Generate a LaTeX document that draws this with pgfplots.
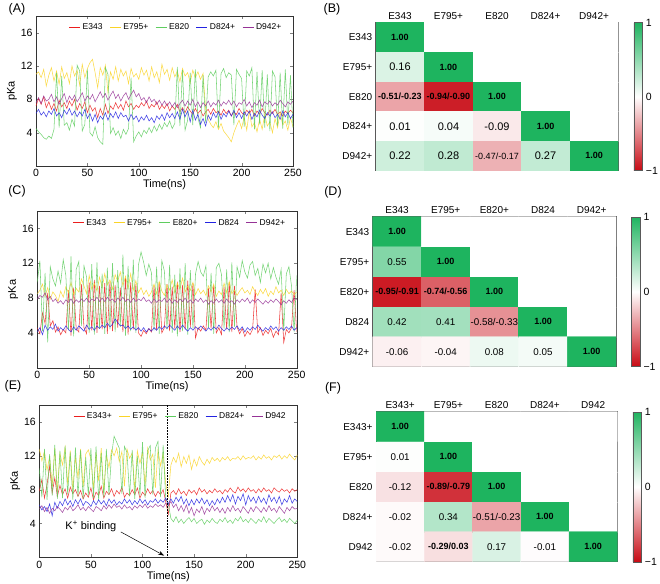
\documentclass[border=0pt]{standalone}
\usepackage{pgfplots}
\pgfplotsset{compat=1.18}
\usepackage{pgfplotstable}
\usepackage{fontspec}
\setmainfont{Liberation Sans}
\usetikzlibrary{arrows.meta}

\definecolor{cR}{RGB}{235,30,30}
\definecolor{cY}{RGB}{250,212,40}
\definecolor{cG}{RGB}{95,205,95}
\definecolor{cB}{RGB}{35,35,225}
\definecolor{cP}{RGB}{150,50,150}

\protected\def\one{{\fontsize{9}{10}\selectfont\bfseries 1.00}}
\protected\def\bl#1{{\fontsize{9}{10}\selectfont\bfseries #1}}
\protected\def\sm#1{{\fontsize{9}{10}\selectfont #1}}
\protected\def\md#1{{\fontsize{9.8}{11}\selectfont #1}}

\pgfplotstableread{
t r y g b p
0 7.2 11.0 4.5 6.3 7.6
2.5 8.1 11.3 4.1 6.8 8.2
5 7.4 10.6 3.8 6.1 7.5
7.5 8.3 11.6 3.4 6.5 8.4
10 7.0 9.6 3.2 5.9 7.8
12.5 7.7 10.9 3.6 6.6 8.0
15 6.8 11.8 3.3 6.2 8.6
17.5 7.5 10.2 4.4 6.9 7.7
20 6.6 11.4 11.2 6.0 8.3
22.5 7.9 9.8 4.6 6.4 7.4
25 7.1 11.9 10.8 5.8 8.1
27.5 7.6 10.5 4.9 6.7 8.7
30 6.9 11.2 5.2 6.2 7.6
32.5 7.8 9.9 4.3 6.9 8.4
35 7.2 12.0 5.6 6.1 7.9
37.5 8.0 10.8 4.8 6.6 8.5
40 6.7 11.5 12.1 5.9 7.7
42.5 7.5 9.7 11.4 6.5 8.2
45 6.9 12.2 4.2 6.0 8.8
47.5 7.7 10.6 5.0 6.8 7.8
50 6.4 11.7 11.6 5.7 8.4
52.5 7.3 12.4 4.0 6.3 8.0
55 6.6 12.8 3.6 5.4 8.6
57.5 7.0 11.2 4.7 6.2 7.7
60 5.8 9.4 3.4 5.2 8.3
62.5 6.9 11.8 2.9 6.0 8.9
65 6.1 10.9 2.6 5.6 8.2
67.5 7.4 12.1 11.8 6.4 8.7
70 6.3 8.8 11.0 5.5 7.9
72.5 7.2 11.3 3.9 6.3 8.5
75 6.8 10.4 4.6 5.8 9.0
77.5 7.6 11.9 3.7 6.5 8.1
80 6.9 10.2 4.2 5.7 8.6
82.5 7.4 11.6 3.3 6.4 7.8
85 6.7 10.8 4.4 5.9 8.4
87.5 7.8 11.4 3.8 6.1 8.8
90 7.1 9.9 4.5 5.4 8.0
92.5 7.5 11.7 10.6 6.2 8.6
95 6.8 10.7 2.9 5.6 9.1
97.5 7.3 11.1 3.6 6.0 8.3
100 7.0 10.4 4.1 5.3 8.7
102.5 7.6 11.8 3.5 5.9 7.9
105 7.2 10.9 4.3 5.5 8.2
107.5 7.8 11.5 3.9 6.1 7.6
110 6.9 10.2 4.6 5.4 8.3
112.5 7.4 11.9 4.0 5.8 7.7
115 7.1 10.6 4.8 5.2 8.0
117.5 7.7 11.3 4.2 6.0 7.4
120 6.8 10.0 5.0 5.6 7.9
122.5 7.3 12.2 4.4 6.2 7.3
125 6.9 11.0 5.2 5.5 7.8
127.5 7.5 11.6 4.7 6.4 7.2
130 6.6 10.3 5.4 5.8 7.7
132.5 7.2 11.8 4.5 6.3 7.1
135 6.8 10.7 5.1 5.7 7.6
137.5 7.4 11.4 11.9 6.5 7.0
140 6.5 10.1 4.8 5.6 7.5
142.5 7.0 11.7 11.5 6.8 7.9
145 6.4 10.8 4.3 5.9 7.2
147.5 7.1 11.2 5.5 6.6 7.8
150 6.6 10.0 11.2 5.3 7.3
152.5 6.2 11.5 4.9 6.7 8.0
155 6.9 10.6 11.6 5.5 7.1
157.5 6.3 11.3 5.8 6.2 7.7
160 6.7 10.4 4.6 5.0 7.0
162.5 6.0 11.1 10.9 5.7 7.6
165 6.5 6.8 5.2 4.8 7.2
167.5 6.8 5.6 10.7 6.1 7.8
170 6.2 5.0 11.3 5.5 7.1
172.5 6.9 4.6 10.8 6.4 7.6
175 6.4 5.3 11.5 5.8 7.3
177.5 6.6 4.4 4.6 6.5 7.9
180 6.1 5.1 11.1 5.6 7.2
182.5 6.8 4.2 11.7 6.3 7.7
185 6.3 3.8 10.6 5.9 7.4
187.5 6.7 3.4 11.2 6.6 7.9
190 6.0 2.9 10.9 6.0 7.3
192.5 6.5 4.0 4.9 6.7 7.8
195 6.2 4.8 11.6 5.8 7.1
197.5 6.9 5.5 11.0 6.4 7.6
200 6.4 4.5 10.5 5.7 7.4
202.5 6.1 5.9 4.7 6.5 8.0
205 6.7 4.3 11.4 6.0 7.2
207.5 6.3 6.6 10.8 6.6 7.7
210 6.8 4.7 11.8 5.6 7.0
212.5 6.0 5.2 4.4 6.3 7.6
215 6.6 4.1 11.3 5.9 7.3
217.5 6.2 5.6 5.0 6.7 7.9
220 6.9 4.4 11.5 6.1 7.1
222.5 6.4 6.2 4.6 5.7 7.7
225 6.1 4.8 11.0 6.4 7.4
227.5 6.7 5.3 4.2 6.0 7.8
230 6.3 4.0 11.4 6.5 7.2
232.5 6.8 5.7 10.7 5.8 7.6
235 6.2 4.6 4.8 6.2 7.3
237.5 6.5 6.4 11.2 5.6 7.9
240 6.0 4.9 4.5 6.6 7.5
242.5 6.6 5.4 11.6 5.9 7.1
245 6.3 4.3 4.9 6.4 7.7
247.5 6.7 5.8 10.9 5.7 7.4
250 6.4 4.7 4.6 6.2 7.8
}\dataA

\pgfplotstableread{
t r y g b p
0 4.6 8.5 9.8 4.1 7.9
2.5 3.9 8.9 12.3 4.6 8.3
5 6.3 9.6 4.2 3.8 8.1
7.5 5.1 8.2 10.9 4.9 8.6
10 8.6 9.2 2.9 4.3 7.8
12.5 4.8 7.9 11.6 4.7 8.2
15 5.4 8.7 10.2 4.4 7.6
17.5 4.1 8.3 9.4 5.0 7.9
20 4.7 7.6 11.1 4.2 7.4
22.5 3.8 8.8 9.7 4.6 7.7
25 4.4 8.1 12.4 4.3 7.3
27.5 4.0 9.3 10.6 4.8 7.8
30 8.9 8.6 4.3 4.4 7.5
32.5 3.7 9.8 12.8 4.1 7.9
35 9.2 8.4 3.6 4.7 7.4
37.5 4.5 9.1 11.3 4.3 7.8
40 4.1 8.7 12.2 4.8 7.5
42.5 9.6 10.2 4.8 4.5 7.9
45 4.6 9.4 11.7 4.2 7.6
47.5 3.9 8.5 10.4 4.9 8.0
50 9.8 10.6 4.0 4.4 7.5
52.5 4.3 9.0 11.9 4.7 7.9
55 10.1 9.7 3.8 4.3 7.7
57.5 4.0 8.8 12.1 4.8 8.1
60 9.4 10.4 4.5 4.5 7.6
62.5 4.4 9.2 10.8 4.9 8.0
65 9.7 10.8 3.9 4.6 7.6
67.5 3.9 9.5 11.5 5.1 8.1
70 9.9 10.1 4.4 4.7 7.7
72.5 4.2 9.0 12.0 5.0 7.9
75 9.5 10.7 4.1 5.6 7.5
77.5 4.6 9.9 11.2 5.2 8.0
80 9.2 11.0 4.7 4.8 7.7
82.5 4.1 9.4 13.0 4.9 8.1
85 10.3 10.5 3.7 4.5 7.6
87.5 3.8 9.1 11.7 4.8 7.9
90 9.8 10.8 4.2 4.4 7.5
92.5 4.4 8.9 12.4 4.7 8.0
95 9.6 10.0 4.0 4.3 7.6
97.5 4.0 8.6 11.8 4.6 7.9
100 3.6 9.2 13.3 4.2 7.7
102.5 4.3 8.4 12.1 4.6 8.1
105 3.9 8.9 10.6 4.1 7.6
107.5 4.5 8.2 11.9 4.5 7.8
110 4.1 8.7 10.9 4.2 7.4
112.5 9.4 9.6 4.3 4.6 7.9
115 4.3 8.5 11.6 4.3 7.5
117.5 9.8 9.9 3.9 4.7 7.8
120 4.0 8.8 12.3 4.4 7.6
122.5 4.6 8.3 11.1 4.8 8.0
125 9.6 9.5 4.4 4.5 7.5
127.5 4.2 8.9 11.8 4.9 7.9
130 9.3 10.1 4.0 4.6 7.4
132.5 4.5 8.6 10.7 4.3 7.8
135 9.9 9.7 3.6 4.8 7.5
137.5 4.1 9.0 11.4 4.4 7.9
140 9.5 10.3 4.2 4.9 7.6
142.5 4.4 8.7 12.0 4.5 8.0
145 10.0 9.4 3.8 4.2 7.5
147.5 4.7 8.9 11.2 4.6 7.8
150 9.7 9.8 4.5 4.3 7.4
152.5 3.4 8.4 10.8 4.7 7.9
155 4.6 9.1 12.2 4.4 7.6
157.5 4.2 8.5 11.0 4.8 8.0
160 4.8 8.9 10.5 4.5 7.5
162.5 4.3 8.3 11.7 4.2 7.8
165 9.1 9.4 4.6 4.6 7.3
167.5 4.5 8.7 10.9 4.3 7.7
170 9.5 9.6 3.9 4.7 7.4
172.5 4.0 8.2 11.5 4.4 7.9
175 4.6 8.8 12.0 4.9 7.5
177.5 3.8 8.4 10.7 4.5 7.8
180 9.3 9.7 4.5 4.2 7.4
182.5 4.4 8.6 11.3 4.6 7.9
185 9.8 9.9 4.1 4.3 7.5
187.5 4.1 8.5 12.1 4.7 7.7
190 9.4 8.9 4.7 4.4 7.3
192.5 4.7 8.3 11.6 4.8 7.8
195 3.9 8.8 10.4 4.3 7.5
197.5 4.5 9.2 12.3 4.7 7.9
200 3.6 8.6 11.0 4.1 7.6
202.5 4.2 8.9 10.3 4.6 8.0
205 3.8 8.4 11.8 4.3 7.4
207.5 4.4 9.3 12.2 4.7 7.8
210 9.0 8.7 10.6 4.4 7.5
212.5 4.0 8.3 11.4 4.9 7.9
215 4.6 9.0 9.8 4.5 7.6
217.5 3.7 8.5 11.9 4.2 7.3
220 4.3 9.1 10.9 4.6 7.7
222.5 3.9 8.2 12.0 4.3 7.4
225 4.5 8.8 10.2 4.8 7.8
227.5 3.5 8.4 11.5 4.4 7.5
230 4.2 9.3 10.4 4.7 7.9
232.5 3.8 8.6 9.6 4.2 7.6
235 8.6 8.9 11.3 4.6 7.2
237.5 2.9 8.3 4.2 4.3 7.7
240 4.4 9.0 10.8 4.7 7.4
242.5 4.0 8.5 11.6 4.4 7.8
245 4.6 8.8 9.4 4.8 7.5
247.5 8.9 8.4 4.1 4.3 8.0
250 4.1 8.7 10.6 4.6 7.8
}\dataC

\pgfplotstableread{
t r y g b p
0 7.8 12.8 10.5 6.2 5.7
2.5 9.2 11.4 7.1 5.6 6.1
5 7.0 12.5 12.8 6.0 5.4
7.5 8.6 10.3 6.8 5.4 5.9
10 10.8 11.9 12.2 6.3 5.2
12.5 7.6 8.4 7.3 4.9 5.8
15 9.4 12.9 13.3 6.5 5.5
17.5 7.2 7.8 6.9 5.8 6.0
20 8.5 12.3 12.6 6.6 5.7
22.5 7.4 10.9 7.0 6.1 5.3
25 8.1 13.0 13.2 6.9 5.9
27.5 7.0 8.6 7.4 6.2 5.6
30 8.3 12.6 12.4 6.7 6.1
32.5 7.5 7.9 6.8 6.0 5.5
35 8.0 11.8 13.0 6.8 5.8
37.5 7.2 9.4 7.2 6.3 6.2
40 7.9 12.8 12.7 6.9 5.6
42.5 6.9 8.3 6.9 6.1 5.9
45 7.6 12.2 11.8 6.6 5.5
47.5 7.1 12.7 7.3 6.4 6.0
50 8.2 11.6 12.9 6.0 5.7
52.5 6.8 8.1 7.0 6.7 5.4
55 7.7 12.4 13.1 6.2 6.0
57.5 7.3 9.0 6.7 6.8 5.8
60 8.4 12.9 12.3 6.3 5.5
62.5 7.0 7.6 7.1 6.7 6.1
65 7.8 12.1 12.8 6.1 5.7
67.5 7.4 10.6 7.4 6.9 6.2
70 8.1 12.7 12.1 6.4 5.8
72.5 7.2 12.0 14.3 6.8 6.3
75 7.9 12.9 13.6 6.2 5.9
77.5 7.5 11.3 12.9 6.6 6.1
80 8.3 12.5 7.5 6.3 5.7
82.5 7.1 8.4 13.1 6.9 6.2
85 7.6 12.8 12.4 6.4 5.8
87.5 7.3 11.7 7.2 6.8 6.0
90 8.0 12.3 12.7 6.2 5.6
92.5 7.4 8.0 6.9 6.7 6.1
95 8.2 12.6 12.0 6.3 5.8
97.5 7.0 11.1 7.3 6.9 6.2
100 7.7 12.4 13.6 6.4 5.9
102.5 7.3 8.5 7.0 6.8 6.3
105 8.1 12.9 12.6 6.2 5.8
107.5 7.5 11.5 13.2 6.7 6.1
110 7.9 12.2 7.4 6.5 5.9
112.5 7.2 8.2 12.9 6.9 6.3
115 7.8 12.7 13.7 6.4 6.0
117.5 7.4 10.8 7.1 6.8 6.2
120 8.0 12.3 13.3 6.5 5.9
122.5 6.6 8.7 6.9 7.0 6.4
125 5.1 7.2 6.4 6.3 6.1
127.5 7.6 10.9 4.6 6.9 6.6
130 7.9 11.8 4.2 6.4 5.9
132.5 7.4 11.2 4.8 7.1 6.3
135 8.1 12.3 4.1 6.6 5.5
137.5 7.5 10.7 4.5 7.2 6.1
140 7.8 11.9 4.0 6.3 5.4
142.5 7.3 11.1 4.4 6.9 6.2
145 8.0 12.1 4.7 6.1 5.2
147.5 7.6 10.4 4.2 6.8 5.9
150 7.9 11.6 4.6 6.2 4.9
152.5 7.4 10.8 4.0 6.9 5.7
155 8.2 11.9 4.3 6.4 5.3
157.5 7.7 11.3 4.5 7.0 6.0
160 8.0 10.9 3.9 6.3 5.1
162.5 7.5 11.6 4.4 6.8 5.8
165 7.9 11.1 4.1 6.1 5.4
167.5 7.6 11.8 4.6 6.7 6.1
170 8.1 11.4 4.2 6.2 5.5
172.5 7.7 11.7 4.0 6.9 5.9
175 7.9 11.3 4.5 6.4 5.3
177.5 7.5 11.8 4.2 7.1 5.8
180 8.0 11.5 4.7 6.5 5.2
182.5 7.7 11.9 4.1 7.3 5.9
185 8.2 11.4 4.4 6.6 5.4
187.5 7.8 11.7 4.0 7.4 6.1
190 7.6 11.6 4.6 6.3 5.5
192.5 8.3 11.9 4.3 7.2 5.8
195 7.8 11.5 4.8 6.7 5.3
197.5 8.1 12.0 4.2 7.5 6.0
200 7.7 11.6 4.5 6.2 5.6
202.5 8.2 11.8 4.1 7.3 5.2
205 7.8 11.7 4.6 6.6 5.9
207.5 8.0 12.0 4.3 7.1 5.4
210 7.6 11.5 4.0 6.4 6.0
212.5 8.1 11.9 4.5 7.2 5.7
215 7.7 11.6 4.2 6.5 5.3
217.5 8.2 12.1 4.8 7.0 5.9
220 7.8 11.7 4.1 6.3 5.4
222.5 8.0 11.9 4.6 7.4 6.1
225 7.6 11.5 4.3 6.6 5.5
227.5 8.2 12.0 4.0 7.1 5.8
230 7.9 11.8 4.4 6.4 5.3
232.5 7.7 12.1 4.7 7.2 6.0
235 8.1 11.6 4.2 6.2 5.6
237.5 7.8 12.0 4.5 6.9 5.2
240 8.0 11.7 4.1 6.5 5.9
242.5 7.6 12.2 4.6 7.3 5.5
245 8.1 11.8 4.3 6.4 6.0
247.5 7.8 11.5 4.0 6.9 5.7
250 8.0 12.1 4.4 6.6 5.8
}\dataE

\pgfplotsset{
  legend image code/.code={\draw[#1,line width=0.9pt,opacity=1] (0pt,0pt) -- (11pt,0pt);},
  lineplot/.style={
    anchor=north west, scale only axis,
    xmin=0, xmax=250, ymin=0, ymax=18,
    xtick={0,50,...,250}, ytick={4,8,12,16},
    tick align=inside, major tick length=3pt,
    /pgf/number format/assume math mode=true,
    tick label style={font=\fontsize{10.5}{12}\selectfont},
    label style={font=\fontsize{11}{13}\selectfont},
    xlabel={Time(ns)}, ylabel={pKa},
    xlabel style={yshift=4pt}, ylabel style={yshift=-3pt},
    axis line style={black!80},
    legend style={at={(0.975,0.975)}, anchor=north east, draw=none, fill=none,
      legend columns=5, font=\fontsize{8.5}{10}\selectfont,
      /tikz/every even column/.append style={column sep=5pt}},
    every axis plot/.append style={line width=0.55pt, opacity=0.85},
  },
  heat/.style={
    anchor=north west, scale only axis,
    xmin=-0.5, xmax=4.5, ymin=-0.5, ymax=4.5, y dir=reverse,
    xtick={0,...,4}, ytick={0,...,4},
    xticklabel pos=upper, major tick length=0pt,
    tick label style={font=\fontsize{10}{12}\selectfont},
    axis line style={black!65, line width=0.8pt},
    colormap={rwg}{rgb255(0cm)=(200,10,20); rgb255(1cm)=(255,255,255); rgb255(2cm)=(30,180,95)},
    point meta min=-1, point meta max=1,
    colorbar,
    colorbar style={at={(parent axis.north east)}, anchor=north west, xshift=7pt,
      width=8.5pt, ytick={-1,0,1}, yticklabels={−1,0,1}, major tick length=0pt,
      tick label style={font=\fontsize{10.5}{12}\selectfont},
      axis line style={black!65}},
  },
  lbl/.style={draw=none, mark=none, point meta=explicit symbolic,
    nodes near coords, nodes near coords align=center,
    nodes near coords style={font=\fontsize{11}{13}\selectfont, inner sep=0pt}},
}

\begin{document}
\begin{tikzpicture}
\path[use as bounding box] (0pt,0pt) rectangle (660pt,-583pt);

\node[font=\fontsize{12.5}{14}\selectfont] at (17pt,-9pt) {(A)};
\node[font=\fontsize{12.5}{14}\selectfont] at (332pt,-9pt) {(B)};
\node[font=\fontsize{12.5}{14}\selectfont] at (17pt,-191pt) {(C)};
\node[font=\fontsize{12.5}{14}\selectfont] at (333pt,-192pt) {(D)};
\node[font=\fontsize{12.5}{14}\selectfont] at (13pt,-386pt) {(E)};
\node[font=\fontsize{12.5}{14}\selectfont] at (333pt,-388pt) {(F)};

% (B)
\begin{axis}[heat, at={(375.7pt,-22.7pt)}, width=242.6pt, height=148pt,
  xticklabels={E343,E795+,E820,D824+,D942+}, yticklabels={E343,E795+,E820,D824+,D942+}]
\addplot[matrix plot*, mesh/cols=5, point meta=explicit] table[meta=c] {
x y c
0 0 1
1 0 0
2 0 0
3 0 0
4 0 0
0 1 0.16
1 1 1
2 1 0
3 1 0
4 1 0
0 2 -0.37
1 2 -0.92
2 2 1
3 2 0
4 2 0
0 3 0.01
1 3 0.04
2 3 -0.09
3 3 1
4 3 0
0 4 0.22
1 4 0.28
2 4 -0.32
3 4 0.27
4 4 1
};
\addplot[lbl] coordinates {
(0,0) [\one] (1,1) [\one] (2,2) [\one] (3,3) [\one] (4,4) [\one]
(0,1) [0.16]
(0,2) [\bl{-0.51/-0.23}] (1,2) [\bl{-0.94/-0.90}]
(0,3) [0.01] (1,3) [0.04] (2,3) [-0.09]
(0,4) [0.22] (1,4) [0.28] (2,4) [\sm{-0.47/-0.17}] (3,4) [0.27]
};
\end{axis}

% (D)
\begin{axis}[heat, at={(372.7pt,-216.7pt)}, width=243.3pt, height=150pt,
  xticklabels={E343,E795+,E820+,D824,D942+}, yticklabels={E343,E795+,E820+,D824,D942+}]
\addplot[matrix plot*, mesh/cols=5, point meta=explicit] table[meta=c] {
x y c
0 0 1
1 0 0
2 0 0
3 0 0
4 0 0
0 1 0.55
1 1 1
2 1 0
3 1 0
4 1 0
0 2 -0.93
1 2 -0.65
2 2 1
3 2 0
4 2 0
0 3 0.42
1 3 0.41
2 3 -0.45
3 3 1
4 3 0
0 4 -0.06
1 4 -0.04
2 4 0.08
3 4 0.05
4 4 1
};
\addplot[lbl] coordinates {
(0,0) [\one] (1,1) [\one] (2,2) [\one] (3,3) [\one] (4,4) [\one]
(0,1) [\md{0.55}]
(0,2) [\bl{-0.95/-0.91}] (1,2) [\bl{-0.74/-0.56}]
(0,3) [\md{0.42}] (1,3) [\md{0.41}] (2,3) [\md{-0.58/-0.33}]
(0,4) [\md{-0.06}] (1,4) [\md{-0.04}] (2,4) [\md{0.08}] (3,4) [\md{0.05}]
};
\end{axis}

% (F)
\begin{axis}[heat, at={(376pt,-411.7pt)}, width=241.3pt, height=150pt,
  xticklabels={E343+,E795+,E820,D824+,D942}, yticklabels={E343+,E795+,E820,D824+,D942}]
\addplot[matrix plot*, mesh/cols=5, point meta=explicit] table[meta=c] {
x y c
0 0 1
1 0 0
2 0 0
3 0 0
4 0 0
0 1 0.01
1 1 1
2 1 0
3 1 0
4 1 0
0 2 -0.12
1 2 -0.84
2 2 1
3 2 0
4 2 0
0 3 -0.02
1 3 0.34
2 3 -0.37
3 3 1
4 3 0
0 4 -0.02
1 4 -0.13
2 4 0.17
3 4 -0.01
4 4 1
};
\addplot[lbl] coordinates {
(0,0) [\one] (1,1) [\one] (2,2) [\one] (3,3) [\one] (4,4) [\one]
(0,1) [\md{0.01}]
(0,2) [\md{-0.12}] (1,2) [\bl{-0.89/-0.79}]
(0,3) [\md{-0.02}] (1,3) [\md{0.34}] (2,3) [\md{-0.51/-0.23}]
(0,4) [\md{-0.02}] (1,4) [\bl{-0.29/0.03}] (2,4) [\md{0.17}] (3,4) [\md{-0.01}]
};
\end{axis}

% (A)
\begin{axis}[lineplot, at={(36pt,-16pt)}, width=257pt, height=150pt]
\addplot[cR, forget plot] table[x=t,y=r] {\dataA};
\addplot[cY, forget plot] table[x=t,y=y] {\dataA};
\addplot[cG, forget plot] table[x=t,y=g] {\dataA};
\addplot[cB, forget plot] table[x=t,y=b] {\dataA};
\addplot[cP, forget plot] table[x=t,y=p] {\dataA};
\addlegendimage{draw=cR}
\addlegendentry{E343}
\addlegendimage{draw=cY}
\addlegendentry{E795+}
\addlegendimage{draw=cG}
\addlegendentry{E820}
\addlegendimage{draw=cB}
\addlegendentry{D824+}
\addlegendimage{draw=cP}
\addlegendentry{D942+}
\end{axis}

% (C)
\begin{axis}[lineplot, at={(37.3pt,-211pt)}, width=259.4pt, height=156.7pt]
\addplot[cR] table[x=t,y=r] {\dataC};
\addplot[cY] table[x=t,y=y] {\dataC};
\addplot[cG] table[x=t,y=g] {\dataC};
\addplot[cB] table[x=t,y=b] {\dataC};
\addplot[cP] table[x=t,y=p] {\dataC};
\legend{E343,E795+,E820+,D824,D942+}
\end{axis}

% (E)
\begin{axis}[lineplot, at={(39.3pt,-405pt)}, width=258pt, height=152.3pt]
\addplot[cR] table[x=t,y=r] {\dataE};
\addplot[cY] table[x=t,y=y] {\dataE};
\addplot[cG] table[x=t,y=g] {\dataE};
\addplot[cB] table[x=t,y=b] {\dataE};
\addplot[cP] table[x=t,y=p] {\dataE};
\legend{E343+,E795+,E820,D824+,D942}
\addplot[black, densely dotted, line width=1pt, opacity=1, forget plot] coordinates {(124.5,0) (124.5,18)};
\node[font=\fontsize{11}{13}\selectfont] at (axis cs:50,3.6) {K\textsuperscript{+} binding};
\draw[-{Stealth[length=6pt,width=4pt]}, line width=0.5pt, opacity=1] (axis cs:79,3.0) -- (axis cs:121,0.2);
\end{axis}
\end{tikzpicture}
\end{document}
